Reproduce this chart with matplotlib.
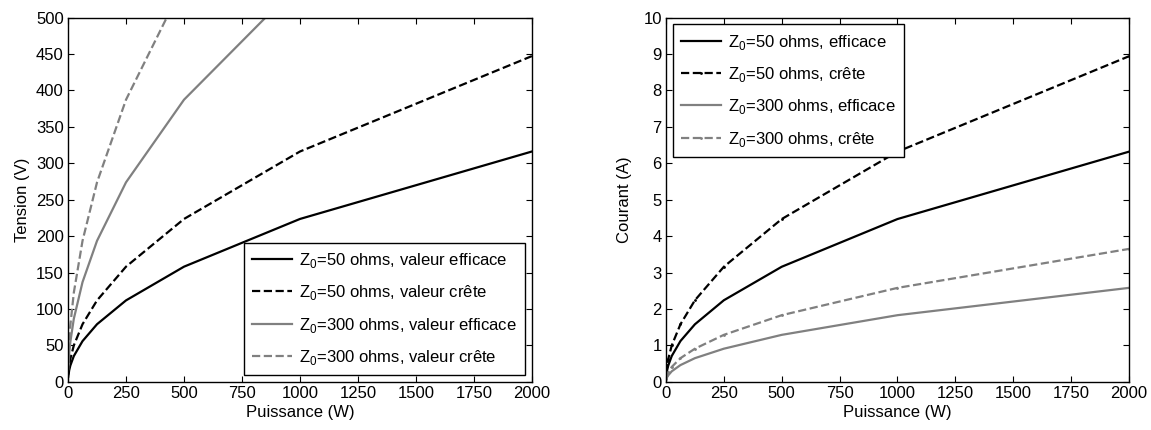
import matplotlib
matplotlib.use("Agg")
import matplotlib.pyplot as plt

plt.rcParams['font.family'] = ['Liberation Sans', 'DejaVu Sans']
plt.rcParams['font.size'] = 12
plt.rcParams['mathtext.fontset'] = 'custom'
plt.rcParams['mathtext.rm'] = 'Liberation Sans'

# puissance (W)
puissance = [1, 5, 10, 25, 62.5, 125, 250, 500, 1000, 2000]

# tension (V)
v_50_eff = [7.1, 15.8, 22.4, 35.4, 55.9, 79.1, 111.8, 158.1, 223.6, 316.2]
v_50_crete = [10.0, 22.4, 31.6, 50.0, 79.1, 111.8, 158.1, 223.6, 316.2, 447.2]
v_300_eff = [17.3, 38.7, 54.8, 86.6, 136.9, 193.6, 273.9, 387.3, 547.7, 774.6]
v_300_crete = [24.5, 54.8, 77.5, 122.5, 193.6, 273.9, 387.3, 547.7, 774.6, 1095.4]

# courant (A)
i_50_eff = [0.14, 0.32, 0.45, 0.71, 1.12, 1.58, 2.24, 3.16, 4.47, 6.32]
i_50_crete = [0.20, 0.45, 0.63, 1.00, 1.58, 2.24, 3.16, 4.47, 6.32, 8.94]
i_300_eff = [0.06, 0.13, 0.18, 0.29, 0.46, 0.65, 0.91, 1.29, 1.83, 2.58]
i_300_crete = [0.08, 0.18, 0.26, 0.41, 0.65, 0.91, 1.29, 1.83, 2.58, 3.65]

gris = '#808080'

fig = plt.figure(figsize=(11.51, 4.30), dpi=100)
ax1 = fig.add_axes([0.0591, 0.112, 0.403, 0.847])
ax2 = fig.add_axes([0.5786, 0.112, 0.4023, 0.847])

#graphe tension
ax1.plot(puissance, v_50_eff, color='black', lw=1.6, label='Z$_\\mathrm{0}$=50 ohms, valeur efficace')
ax1.plot(puissance, v_50_crete, color='black', lw=1.6, ls='--', label='Z$_\\mathrm{0}$=50 ohms, valeur crête')
ax1.plot(puissance, v_300_eff, color=gris, lw=1.6, label='Z$_\\mathrm{0}$=300 ohms, valeur efficace')
ax1.plot(puissance, v_300_crete, color=gris, lw=1.6, ls='--', label='Z$_\\mathrm{0}$=300 ohms, valeur crête')
ax1.set_xlim(0, 2000)
ax1.set_ylim(0, 500)
ax1.set_xticks(range(0, 2001, 250))
ax1.set_yticks(range(0, 501, 50))
ax1.set_xlabel('Puissance (W)', labelpad=3)
ax1.set_ylabel('Tension (V)', labelpad=4)
leg1 = ax1.legend(loc='lower right', fancybox=False, edgecolor='black', framealpha=1,
                  handlelength=2.4, borderaxespad=0.4, labelspacing=0.8, handletextpad=0.4,
                  borderpad=0.5)
leg1.get_frame().set_linewidth(1.0)

#graphe courant
ax2.plot(puissance, i_50_eff, color='black', lw=1.6, label='Z$_\\mathrm{0}$=50 ohms, efficace')
ax2.plot(puissance, i_50_crete, color='black', lw=1.6, ls='--', marker='.', ms=2, label='Z$_\\mathrm{0}$=50 ohms, crête')
ax2.plot(puissance, i_300_eff, color=gris, lw=1.6, label='Z$_\\mathrm{0}$=300 ohms, efficace')
ax2.plot(puissance, i_300_crete, color=gris, lw=1.6, ls='--', marker='.', ms=2, label='Z$_\\mathrm{0}$=300 ohms, crête')
ax2.set_xlim(0, 2000)
ax2.set_ylim(0, 10)
ax2.set_xticks(range(0, 2001, 250))
ax2.set_yticks(range(0, 11))
ax2.set_xlabel('Puissance (W)', labelpad=3)
ax2.set_ylabel('Courant (A)', labelpad=8)
leg2 = ax2.legend(loc='upper left', fancybox=False, edgecolor='black', framealpha=1,
                  handlelength=2.4, borderaxespad=0.4, labelspacing=0.8, handletextpad=0.4,
                  borderpad=0.5)
leg2.get_frame().set_linewidth(1.0)

for ax in (ax1, ax2):
    ax.tick_params(direction='in', top=True, right=True, length=4, pad=3)
    for s in ax.spines.values():
        s.set_linewidth(1.0)

fig.savefig('out.png', dpi=100)
